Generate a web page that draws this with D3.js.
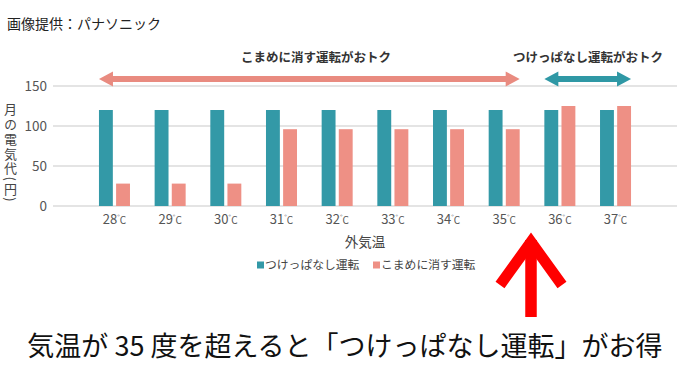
<!DOCTYPE html>
<html><head><meta charset="utf-8">
<script src="https://cdn.jsdelivr.net/npm/d3@7"></script>
<style>
html,body{margin:0;padding:0;background:#fff;}
body{position:relative;width:680px;height:382px;overflow:hidden;}
svg{display:block;font-family:"Noto Sans CJK JP","Noto Sans",sans-serif;}
.ytitle{position:absolute;left:4px;top:103px;writing-mode:vertical-rl;text-orientation:mixed;
  font-family:"Noto Sans CJK JP","Noto Sans",sans-serif;font-size:13px;line-height:13px;letter-spacing:1.7px;color:#444;white-space:nowrap;}
</style></head>
<body>
<script>
const categories = ["28","29","30","31","32","33","34","35","36","37"];
const seriesNames = ["つけっぱなし運転","こまめに消す運転"];
const tsukeppanashi = [120,120,120,120,120,120,120,120,120,120];
const komame = [28,28,28,96,96,96,96,96,125,125];
const yTicks = [0,50,100,150];
const colors = ["#3399a7","#ee9085"];

const W = 680, H = 382;
const svg = d3.select("body").append("svg").attr("width", W).attr("height", H);

const x0 = d3.scaleBand().domain(categories).range([74.3, 655.7]).paddingInner(0.443).paddingOuter(0.443);
const x1 = d3.scaleBand().domain([0,1]).range([0, x0.bandwidth()]).paddingInner(0.19);
const y = d3.scaleLinear().domain([0,150]).range([206, 86]);

// title
svg.append("text").attr("x", 7).attr("y", 29).attr("font-size", 14).attr("fill", "#222").text("画像提供：パナソニック");

// gridlines
svg.append("g").selectAll("line").data(yTicks).join("line")
  .attr("x1", 53).attr("x2", 677)
  .attr("y1", d => y(d)).attr("y2", d => y(d))
  .attr("stroke", "#c9c9c9").attr("stroke-width", 1);

// y axis labels
const yAxis = d3.axisLeft(y).tickValues(yTicks).tickSize(0).tickPadding(0);
const ya = svg.append("g").attr("transform", "translate(47,0)").call(yAxis);
ya.select(".domain").remove();
ya.selectAll("text").attr("font-size", 13.5).attr("fill", "#555").attr("font-family", '"Noto Sans CJK JP","Noto Sans",sans-serif');

// y title: vertical writing
d3.select("body").append("div").attr("class", "ytitle").text("月の電気代(円)");

// bars
const rows = categories.map((c,i) => ({c, v:[tsukeppanashi[i], komame[i]]}));
const g = svg.append("g").selectAll("g").data(rows).join("g")
  .attr("transform", d => `translate(${x0(d.c)},0)`);
g.selectAll("rect").data(d => d.v.map((v,k) => ({v,k}))).join("rect")
  .attr("x", d => x1(d.k)).attr("width", x1.bandwidth())
  .attr("y", d => y(d.v)).attr("height", d => y(0) - y(d.v))
  .attr("fill", d => colors[d.k]);

// x tick labels
const xl = svg.append("g").selectAll("text").data(categories).join("text")
  .attr("x", d => x0(d) + x0.bandwidth()/2).attr("y", 224)
  .attr("text-anchor", "middle").attr("fill", "#555").attr("font-size", 13);
xl.append("tspan").text(d => d);
xl.append("tspan").attr("font-size", 7).attr("dy", -4).text("°");
xl.append("tspan").attr("font-size", 10).attr("dy", 4).text("C");

// x title
svg.append("text").attr("x", 365).attr("y", 247).attr("text-anchor", "middle")
  .attr("font-size", 13.5).attr("fill", "#444").text("外気温");

// legend
const leg = [{x:257, i:0},{x:373, i:1}];
leg.forEach(l => {
  svg.append("rect").attr("x", l.x).attr("y", 261.5).attr("width", 7).attr("height", 7).attr("fill", colors[l.i]);
  svg.append("text").attr("x", l.x + 8).attr("y", 269).attr("font-size", 11.8).attr("fill", "#444").text(seriesNames[l.i]);
});

// annotation arrows
function dblArrow(xa, xb, yy, col) {
  const hl = 14, hh = 7.5, sw = 3;
  const p = `M${xa},${yy} L${xa+hl},${yy-hh} L${xa+hl},${yy-sw} L${xb-hl},${yy-sw} L${xb-hl},${yy-hh} L${xb},${yy} L${xb-hl},${yy+hh} L${xb-hl},${yy+sw} L${xa+hl},${yy+sw} L${xa+hl},${yy+hh} Z`;
  svg.append("path").attr("d", p).attr("fill", col);
}
const lStart = x0("28"), lEnd = x0("35") + x0.bandwidth();
const rStart = x0("36"), rEnd = x0("37") + x0.bandwidth();
dblArrow(lStart, lEnd, 79, "#e98b80");
dblArrow(rStart, rEnd, 79, "#2f98a5");
svg.append("text").attr("x", 316).attr("y", 61.5).attr("text-anchor", "middle")
  .attr("font-size", 12.5).attr("font-weight", "bold").attr("fill", "#333").text("こまめに消す運転がおトク");
svg.append("text").attr("x", 588).attr("y", 61.5).attr("text-anchor", "middle")
  .attr("font-size", 12.5).attr("font-weight", "bold").attr("fill", "#333").text("つけっぱなし運転がおトク");

// big red arrow
const ax = 531;
svg.append("path").attr("d", `M${ax},317 L${ax},240`).attr("stroke", "#f00").attr("stroke-width", 11.5).attr("fill", "none");
svg.append("path").attr("d", `M${ax-31},285 L${ax},242 L${ax+31},285`).attr("stroke", "#f00").attr("stroke-width", 11).attr("fill", "none").attr("stroke-linejoin", "miter").attr("stroke-miterlimit", 10);

// bottom caption
svg.append("text").attr("x", 345).attr("y", 356).attr("text-anchor", "middle")
  .attr("font-size", 27).attr("fill", "#111").text("気温が 35 度を超えると「つけっぱなし運転」がお得");
</script>
</body></html>
